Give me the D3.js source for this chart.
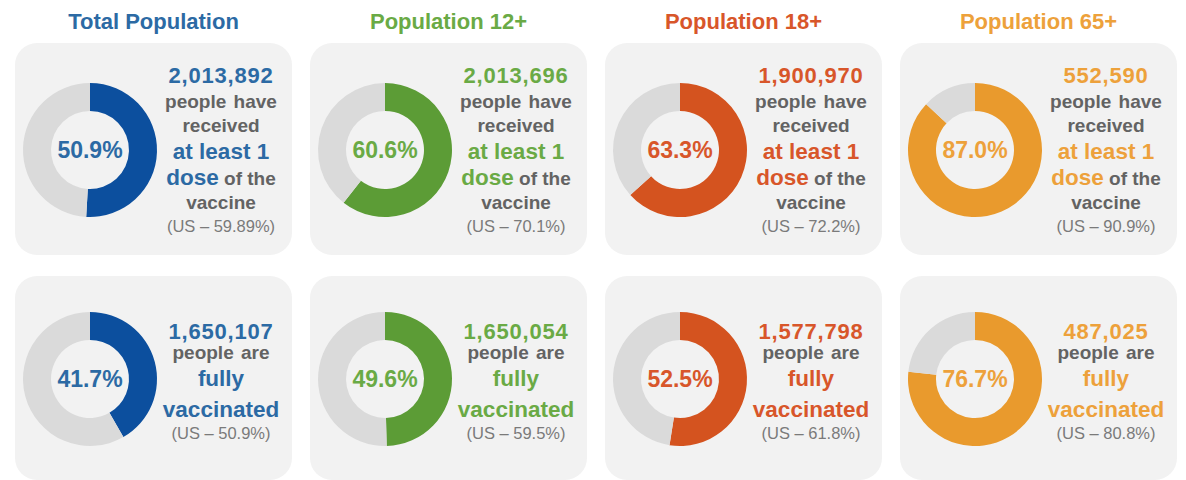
<!DOCTYPE html>
<html>
<head>
<meta charset="utf-8">
<script src="https://cdn.jsdelivr.net/npm/d3@7"></script>
<style>
  body { margin: 0; background: #fff; }
  svg { display: block; font-family: "Liberation Sans", Arial, sans-serif; }
</style>
</head>
<body>
<div id="chart"></div>
<script>
// Data
const groups = ["Total Population", "Population 12+", "Population 18+", "Population 65+"];
const ringColors = ["#0c4f9e", "#5c9c36", "#d4531f", "#e99a2d"];
const textColors = ["#2c6aa4", "#6aaa45", "#d8562a", "#eda13b"];

const oneDosePct = [50.9, 60.6, 63.3, 87.0];
const oneDoseCount = [2013892, 2013696, 1900970, 552590];
const oneDoseUS = ["59.89%", "70.1%", "72.2%", "90.9%"];

const fullyPct = [41.7, 49.6, 52.5, 76.7];
const fullyCount = [1650107, 1650054, 1577798, 487025];
const fullyUS = ["50.9%", "59.5%", "61.8%", "80.8%"];

const width = 1186;
const height = 480;

const svg = d3.select("#chart")
  .append("svg")
  .attr("width", width)
  .attr("height", height);

// Card columns
const xScale = d3.scaleBand()
  .domain(groups)
  .range([15, 1177])
  .paddingInner(0.061);

const rows = [
  { key: "one", top: 43, h: 212, pct: oneDosePct, count: oneDoseCount, us: oneDoseUS },
  { key: "full", top: 276, h: 204, pct: fullyPct, count: fullyCount, us: fullyUS }
];

const fmtCount = d3.format(",");
const fmtPct = d3.format(".1f");

const pie = d3.pie().sort(null).value(d => d);
const arc = d3.arc().innerRadius(39).outerRadius(67);

// Column titles
svg.selectAll("text.title")
  .data(groups)
  .enter()
  .append("text")
  .attr("class", "title")
  .attr("x", d => xScale(d) + xScale.bandwidth() / 2)
  .attr("y", 29)
  .attr("text-anchor", "middle")
  .attr("font-size", 22)
  .attr("font-weight", "bold")
  .attr("fill", (d, i) => textColors[i])
  .text(d => d);

rows.forEach(row => {
  groups.forEach((g, i) => {
    const x0 = xScale(g);
    const card = svg.append("g").attr("transform", `translate(${x0},${row.top})`);
    const col = textColors[i];

    card.append("rect")
      .attr("width", xScale.bandwidth())
      .attr("height", row.h)
      .attr("rx", 22)
      .attr("fill", "#f2f2f2");

    // Donut
    const cy = row.key === "one" ? 107 : 103;
    const donut = card.append("g").attr("transform", `translate(75,${cy})`);
    donut.selectAll("path")
      .data(pie([row.pct[i], 100 - row.pct[i]]))
      .enter()
      .append("path")
      .attr("d", arc)
      .attr("fill", (d, j) => j === 0 ? ringColors[i] : "#dadada");
    donut.append("text")
      .attr("y", 8)
      .attr("text-anchor", "middle")
      .attr("font-size", 23)
      .attr("font-weight", "bold")
      .attr("fill", col)
      .text(fmtPct(row.pct[i]) + "%");

    // Text block
    const tx = 206;
    const t = card.append("g").attr("transform", `translate(${tx},0)`).attr("text-anchor", "middle");
    const line = (y, size, color, str, weight = "bold") =>
      t.append("text").attr("y", y).attr("font-size", size).attr("font-weight", weight).attr("fill", color).text(str);

    if (row.key === "one") {
      line(40, 22, col, fmtCount(row.count[i])).attr("letter-spacing", 0.8);
      line(65, 19, "#636363", "people have").attr("word-spacing", 2);
      line(89, 19, "#636363", "received");
      line(116, 22.5, col, "at least 1");
      const dose = t.append("text").attr("y", 142).attr("font-weight", "bold");
      dose.append("tspan").attr("font-size", 22.5).attr("fill", col).text("dose");
      dose.append("tspan").attr("font-size", 19).attr("fill", "#636363").text(" of the");
      line(166, 19, "#636363", "vaccine");
      line(189, 16.5, "#7a7a7a", `(US \u2013 ${row.us[i]})`, "normal");
    } else {
      line(63, 22, col, fmtCount(row.count[i])).attr("letter-spacing", 0.8);
      line(83, 19, "#636363", "people are").attr("word-spacing", 2);
      line(110, 22.5, col, "fully");
      line(141, 22.5, col, "vaccinated");
      line(163, 16.5, "#7a7a7a", `(US \u2013 ${row.us[i]})`, "normal");
    }
  });
});
</script>
</body>
</html>
